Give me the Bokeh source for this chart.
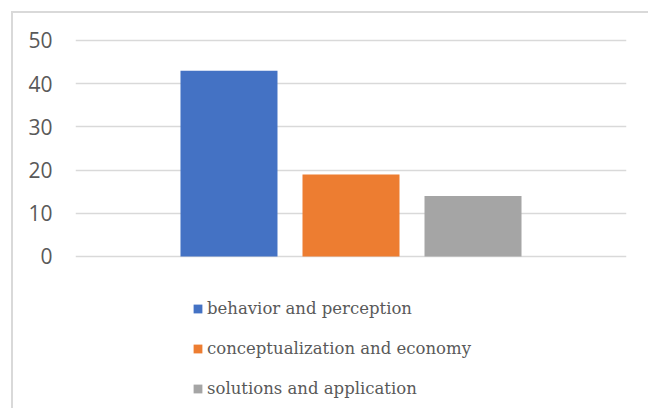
from bokeh.plotting import figure
from bokeh.models import ColumnDataSource, Range1d, FixedTicker, Legend, LegendItem
from bokeh.embed import file_html
from bokeh.resources import INLINE

categories = ["behavior and perception", "conceptualization and economy", "solutions and application"]
values = [43, 19, 14]
colors = ["#4472C4", "#ED7D31", "#A5A5A5"]
y_ticks = [0, 10, 20, 30, 40, 50]

xs = [i - (len(categories) - 1) / 2 for i in range(len(categories))]

p = figure(width=637, height=397, output_backend="svg", toolbar_location=None,
           x_range=Range1d(-2.258, 2.258), y_range=Range1d(-35.65, 52.31),
           min_border_left=62, min_border_right=24, min_border_top=17, min_border_bottom=0)
p.margin = (11, 0, 0, 11)
p.styles = {"border-top": "2px solid #d9d9d9", "border-left": "2px solid #d9d9d9"}
p.outline_line_color = None
p.xaxis.visible = False
p.xgrid.visible = False
p.ygrid.grid_line_color = "#d9d9d9"
p.ygrid.grid_line_width = 1.3
p.yaxis.ticker = FixedTicker(ticks=y_ticks)
p.ygrid.ticker = FixedTicker(ticks=y_ticks)
p.yaxis.axis_line_color = None
p.yaxis.major_tick_line_color = None
p.yaxis.minor_tick_line_color = None
p.yaxis.major_label_standoff = 17
p.yaxis.major_label_text_font = "Open Sans"
p.yaxis.major_label_text_font_size = "21px"
p.yaxis.major_label_text_color = "#595959"

items = []
for i in range(len(categories)):
    r = p.vbar(x=[xs[i]], top=[values[i]], bottom=0, width=0.795, color=colors[i], line_color=None)
    items.append(LegendItem(label=categories[i], renderers=[r]))

legend = Legend(items=items, location=(117, 12), orientation="vertical",
                glyph_width=11, glyph_height=11, label_standoff=4,
                label_text_font="DejaVu Serif", label_text_font_size="16.5px",
                label_text_color="#595959", label_height=20, spacing=20,
                padding=0, margin=0, border_line_color=None, background_fill_alpha=0)
p.add_layout(legend, "center")

open("out.html", "w").write(file_html(p, INLINE))
